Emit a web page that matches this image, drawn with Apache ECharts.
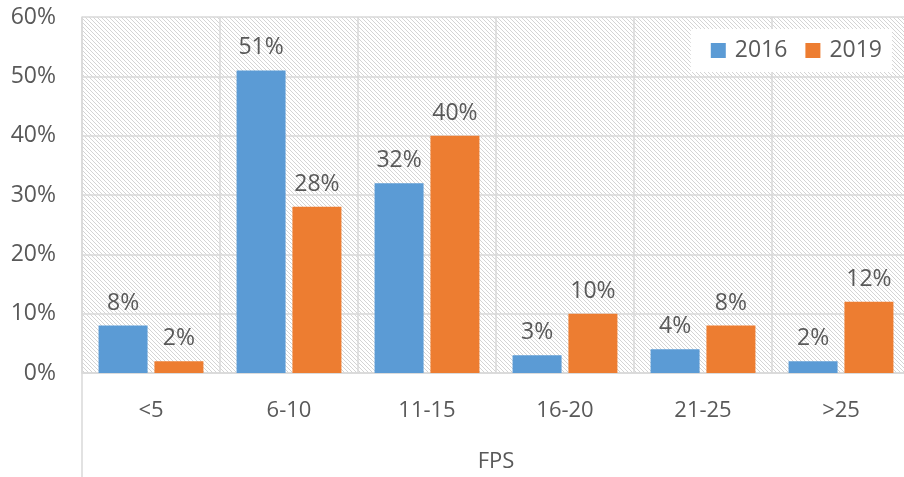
<!DOCTYPE html>
<html>
<head>
<meta charset="utf-8">
<script src="https://cdn.jsdelivr.net/npm/echarts@6/dist/echarts.min.js"></script>
<style>
  html, body { margin: 0; padding: 0; background: #fff; }
  #chart { width: 904px; height: 477px; }
</style>
</head>
<body>
<div id="chart"></div>
<script>
// FPS buckets and share of samples per year
const categories = ['<5', '6-10', '11-15', '16-20', '21-25', '>25'];
const values2016 = [8, 51, 32, 3, 4, 2];
const values2019 = [2, 28, 40, 10, 8, 12];
const yTicks = [0, 10, 20, 30, 40, 50, 60];

const FONT = '"Open Sans", sans-serif';
const TEXT = '#595959';
const GRID_LINE = '#d9d9d9';

// light diagonal hatch for the plot background
function hatchPattern() {
  const c = document.createElement('canvas');
  const n = 4;
  c.width = n; c.height = n;
  const ctx = c.getContext('2d');
  ctx.fillStyle = '#ffffff';
  ctx.fillRect(0, 0, n, n);
  ctx.fillStyle = '#d4d4d4';
  for (let i = 0; i < n; i++) ctx.fillRect(i, i, 1, 1);
  return c;
}

const chart = echarts.init(document.getElementById('chart'), null, { renderer: 'canvas' });

const labelStyle = {
  show: true,
  position: 'top',
  distance: 11,
  color: TEXT,
  fontFamily: FONT,
  fontSize: 23,
  formatter: p => p.value + '%'
};

chart.setOption({
  animation: false,
  grid: {
    left: 82, top: 17, right: -6, bottom: 104,
    outerBoundsMode: 'none',
    containLabel: false,
    show: false,
    borderWidth: 0
  },
  legend: {
    right: 12, top: 29,
    backgroundColor: '#ffffff',
    padding: [10, 10, 10, 20],
    itemWidth: 15, itemHeight: 15,
    itemGap: 18,
    icon: 'rect',
    textStyle: { color: TEXT, fontFamily: FONT, fontSize: 23, padding: [0, 0, 0, 4] },
    data: ['2016', '2019']
  },
  xAxis: {
    type: 'category',
    data: categories,
    name: 'FPS',
    nameLocation: 'middle',
    nameGap: 78,
    nameTextStyle: { color: TEXT, fontFamily: FONT, fontSize: 22 },
    axisLine: { show: true, lineStyle: { color: GRID_LINE, width: 1.5 } },
    axisTick: { show: false },
    axisLabel: { color: TEXT, fontFamily: FONT, fontSize: 22, margin: 27 },
    splitLine: { show: true, lineStyle: { color: GRID_LINE, width: 1.5 } }
  },
  yAxis: {
    type: 'value',
    min: yTicks[0],
    max: yTicks[yTicks.length - 1],
    interval: 10,
    axisLine: { show: true, lineStyle: { color: GRID_LINE, width: 1.5 } },
    axisTick: { show: false },
    axisLabel: {
      color: TEXT, fontFamily: FONT, fontSize: 23, margin: 26,
      formatter: v => v + '%'
    },
    splitLine: { show: true, lineStyle: { color: GRID_LINE, width: 1.5 } }
  },
  series: [
    {
      name: '2016', type: 'bar', data: values2016,
      barWidth: 49, barGap: '14%',
      itemStyle: { color: '#5b9bd5' },
      label: labelStyle
    },
    {
      name: '2019', type: 'bar', data: values2019,
      barWidth: 49, barGap: '14%',
      itemStyle: { color: '#ed7d31' },
      label: labelStyle
    }
  ],
  graphic: [
    {
      type: 'rect',
      z: -10,
      silent: true,
      shape: { x: 82, y: 17, width: 828, height: 356 },
      style: { fill: { image: hatchPattern(), repeat: 'repeat' } }
    },
    {
      type: 'line',
      shape: { x1: 82, y1: 373, x2: 82, y2: 477 },
      style: { stroke: GRID_LINE, lineWidth: 1.5 },
      silent: true
    }
  ]
});
</script>
</body>
</html>
